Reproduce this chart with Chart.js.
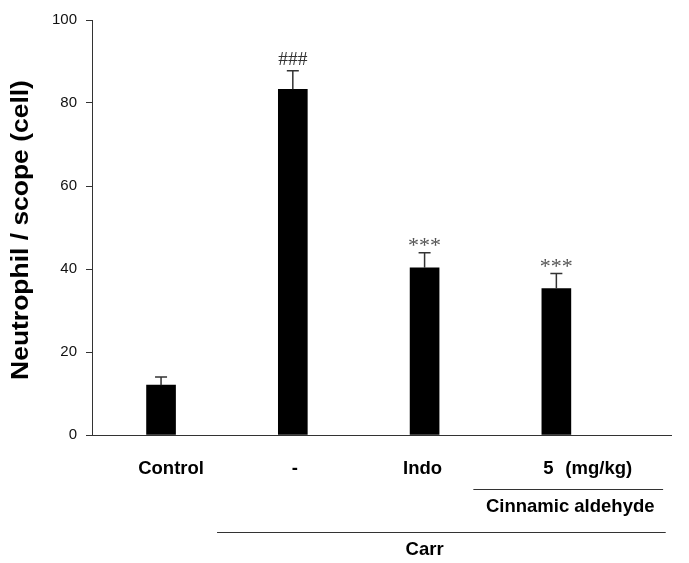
<!DOCTYPE html>
<html>
<head>
<meta charset="utf-8">
<script src="https://cdn.jsdelivr.net/npm/chart.js@4.4.1/dist/chart.umd.min.js"></script>
<style>
  body { margin: 0; background: #fff; }
  #wrap { width: 689px; height: 563px; }
</style>
</head>
<body>
<div id="wrap"><canvas id="chart" width="689" height="563"></canvas></div>
<script>
const groups = ["Control", "-", "Indo", "5"];
const neutrophil = [12.0, 83.3, 40.3, 35.3];
const sem = [2.0, 4.5, 3.6, 3.6];
const marks = ["", "###", "***", "***"];
const yTicks = [0, 20, 40, 60, 80, 100];
const doseUnit = "(mg/kg)";
const drugGroup = "Cinnamic aldehyde";
const inducer = "Carr";
const yTitle = "Neutrophil / scope (cell)";

const SANS = "Arial, 'Liberation Sans', Helvetica, sans-serif";
const SERIF = "'Times New Roman', 'Liberation Serif', serif";
const AXIS = "#333";

const extras = {
    id: "extras",
    afterDraw(chart) {
        const ctx = chart.ctx;
        const xs = chart.scales.x;
        const ys = chart.scales.y;
        ctx.save();

        // error bars (upper only) + significance marks
        neutrophil.forEach((v, i) => {
            const x = xs.getPixelForValue(i);
            const yTop = ys.getPixelForValue(v);
            const yErr = ys.getPixelForValue(v + sem[i]);
            ctx.strokeStyle = AXIS;
            ctx.lineWidth = 1.5;
            ctx.beginPath();
            ctx.moveTo(x, yTop);
            ctx.lineTo(x, yErr);
            ctx.moveTo(x - 6, yErr);
            ctx.lineTo(x + 6, yErr);
            ctx.stroke();

            if (marks[i]) {
                const star = marks[i].startsWith("*");
                ctx.fillStyle = star ? "#555" : "#333";
                ctx.font = (star ? "22px " : "19.5px ") + SERIF;
                ctx.textAlign = "center";
                ctx.textBaseline = "alphabetic";
                ctx.fillText(marks[i], x, yErr - (star ? 1 : 6));
            }
        });

        // category labels
        const labelY = 469;
        ctx.fillStyle = "#000";
        ctx.font = "bold 18.5px " + SANS;
        ctx.textBaseline = "middle";
        ctx.textAlign = "center";
        const nudge = [10, 2, -2, -8];
        groups.forEach((g, i) => {
            ctx.fillText(g, xs.getPixelForValue(i) + nudge[i], labelY);
        });
        ctx.textAlign = "left";
        ctx.fillText(doseUnit, xs.getPixelForValue(3) + 9, labelY);

        // group brackets
        ctx.strokeStyle = AXIS;
        ctx.lineWidth = 1;
        ctx.beginPath();
        ctx.moveTo(xs.getPixelForValue(2.37), 489.5);
        ctx.lineTo(xs.getPixelForValue(3.81), 489.5);
        ctx.moveTo(xs.getPixelForValue(0.425), 532.5);
        ctx.lineTo(xs.getPixelForValue(3.83), 532.5);
        ctx.stroke();

        ctx.textAlign = "center";
        ctx.fillText(drugGroup, (xs.getPixelForValue(2.37) + xs.getPixelForValue(3.81)) / 2 + 2, 507);
        ctx.fillText(inducer, xs.getPixelForValue(2), 550);

        // y axis title (slightly stretched like the original)
        ctx.translate(22, 230);
        ctx.rotate(-Math.PI / 2);
        ctx.scale(1.15, 1);
        ctx.font = "bold 23px " + SANS;
        ctx.textAlign = "center";
        ctx.textBaseline = "middle";
        ctx.fillText(yTitle, 0, 0);

        ctx.restore();
    }
};

new Chart(document.getElementById("chart"), {
    type: "bar",
    data: {
        datasets: [{
            data: neutrophil.map((v, i) => ({ x: i, y: v })),
            backgroundColor: "#000",
            borderColor: "#000",
            borderWidth: 0,
            barThickness: 29
        }]
    },
    options: {
        responsive: false,
        animation: false,
        devicePixelRatio: 1,
        layout: { padding: { top: 20, right: 18, left: 0, bottom: 0 } },
        plugins: { legend: { display: false }, tooltip: { enabled: false } },
        scales: {
            x: {
                type: "linear",
                offset: false,
                min: -0.524,
                max: 3.87,
                ticks: { display: false },
                grid: { display: false },
                border: { display: true, color: AXIS, width: 1 },
                afterFit: s => { s.height = 128; }
            },
            y: {
                min: 0,
                max: 100,
                afterBuildTicks: s => { s.ticks = yTicks.map(v => ({ value: v })); },
                ticks: {
                    color: "#111",
                    padding: 9,
                    font: { family: SANS, size: 15 }
                },
                grid: { drawOnChartArea: false, tickLength: 6, color: AXIS },
                border: { display: true, color: AXIS, width: 1 },
                afterFit: s => { s.width = 92; }
            }
        }
    },
    plugins: [extras]
});
</script>
</body>
</html>
